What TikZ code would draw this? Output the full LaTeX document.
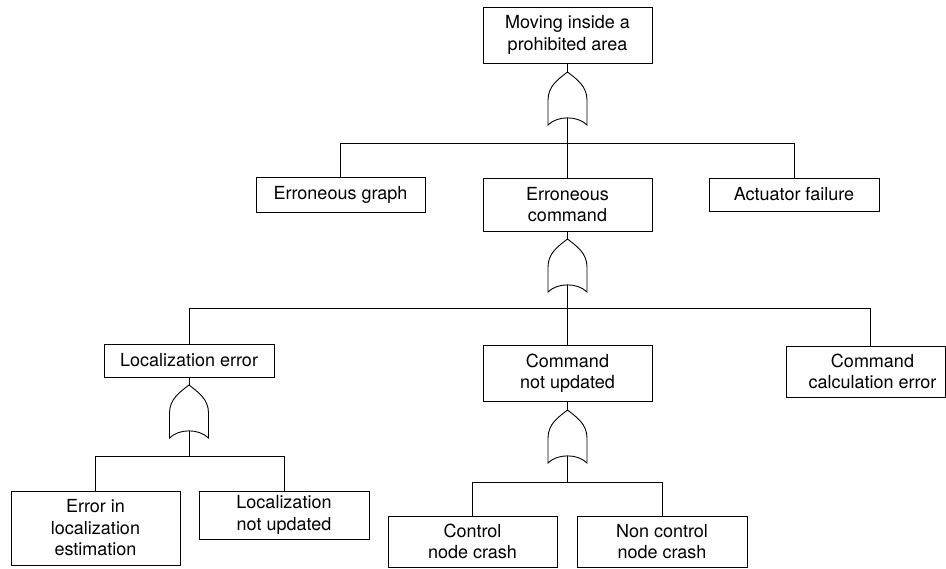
\documentclass[tikz,border=0pt]{standalone}
\usepackage{fontspec}
\setmainfont{TeX Gyre Heros}
\begin{document}
\begin{tikzpicture}[x=1pt,y=-1pt,
  line width=0.9pt,
  evbox/.style={draw, rectangle, align=center, inner sep=0pt, font=\fontsize{18}{21.5}\selectfont},
  orgate/.pic={
    \draw (0,0) .. controls (9,7) and (19.5,14) .. (19.5,28) -- (19.5,53)
      .. controls (10,43.5) and (-10,43.5) .. (-19.5,53) -- (-19.5,28)
      .. controls (-19.5,14) and (-9,7) .. (0,0) -- cycle;
    \coordinate (-top) at (0,0);
    \coordinate (-bot) at (0,46);
  }]
\useasboundingbox (0,0) rectangle (946,569);

% nodes
\node[evbox, minimum width=169, minimum height=56] (top) at (567.5,35) {Moving inside a\\prohibited area};
\node[evbox, minimum width=169, minimum height=35] (eg) at (340.5,195) {Erroneous graph};
\node[evbox, minimum width=169, minimum height=53] (ec) at (567.5,204.5) {Erroneous\\command};
\node[evbox, minimum width=170, minimum height=33] (af) at (794,194.5) {Actuator failure};
\node[evbox, minimum width=170, minimum height=33] (le) at (189,360.5) {Localization error};
\node[evbox, minimum width=169, minimum height=56] (cnu) at (567.5,373) {Command\\not updated};
\node[evbox, minimum width=159, minimum height=51] (cce) at (865.5,371.5) {\hspace*{14pt}Command\\\hspace*{14pt}calculation error};
\node[evbox, minimum width=169, minimum height=74] (eil) at (95.5,528) {Error in\\localization\\estimation};
\node[evbox, minimum width=170, minimum height=48] (lnu) at (284,515) {Localization\\not updated};
\node[evbox, minimum width=169, minimum height=51] (cnc) at (472.5,541.5) {Control\\node crash};
\node[evbox, minimum width=170, minimum height=51] (ncnc) at (662,541.5) {Non control\\node crash};

% gates
\pic (g1) at (567.5,72) {orgate};
\pic (g2) at (567.5,239) {orgate};
\pic (g3) at (189,385) {orgate};
\pic (g4) at (567.5,410) {orgate};

% bar junctions
\coordinate (b1) at (567.5,143);
\coordinate (b2) at (567.5,308);
\coordinate (b3) at (189,456);
\coordinate (b4) at (567.5,482);

% connectors
\draw (top.south) -- (g1-top);
\draw (g1-bot) -- (b1);
\draw (b1) -| (eg.north);
\draw (b1) -- (ec.north);
\draw (b1) -| (af.north);

\draw (ec.south) -- (g2-top);
\draw (g2-bot) -- (b2);
\draw (b2) -| (le.north);
\draw (b2) -- (cnu.north);
\draw (b2) -| ([xshift=4.5pt]cce.north);

\draw (le.south) -- (g3-top);
\draw (g3-bot) -- (b3);
\draw (b3) -| (eil.north);
\draw (b3) -| (lnu.north);

\draw (cnu.south) -- (g4-top);
\draw (g4-bot) -- (b4);
\draw (b4) -| (cnc.north);
\draw (b4) -| (ncnc.north);
\end{tikzpicture}
\end{document}
